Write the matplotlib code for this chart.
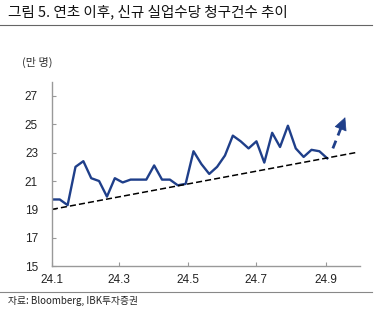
import numpy as np
import pandas as pd
import matplotlib
matplotlib.use("Agg")
import matplotlib.pyplot as plt
import matplotlib.dates as mdates

plt.rcParams['font.family'] = ['Noto Sans CJK KR', 'DejaVu Sans']

# weekly initial jobless claims, 10k persons
claims = [19.7, 19.7, 19.3, 22.0, 22.4, 21.2, 21.0, 19.9, 21.2, 20.9,
          21.1, 21.1, 21.1, 22.1, 21.1, 21.1, 20.7, 20.8, 23.1, 22.2,
          21.5, 22.0, 22.8, 24.2, 23.8, 23.3, 23.8, 22.3, 24.4, 23.4,
          24.9, 23.3, 22.7, 23.2, 23.1, 22.6]
weeks = pd.date_range("2024-01-01", periods=len(claims), freq="7D")

trend_dates = pd.to_datetime(["2024-01-01", "2024-09-27"])
trend_vals = [19.0, 23.0]

arrow_dates = pd.to_datetime(["2024-09-07", "2024-09-18"])
arrow_vals = [23.3, 25.5]

tick_dates = pd.to_datetime(["2024-01-01", "2024-03-01", "2024-05-01",
                             "2024-07-01", "2024-09-01"])
tick_labels = ["24.1", "24.3", "24.5", "24.7", "24.9"]
yticks = [15, 17, 19, 21, 23, 25, 27]

blue = "#1f3f8a"
gray = "#999999"
latin = ['Liberation Sans', 'DejaVu Sans']

fig = plt.figure(figsize=(3.76, 3.12), dpi=100)
ax = fig.add_axes([0.138, 0.147, 0.819, 0.591])

ax.plot(weeks, claims, color=blue, lw=1.7)
ax.plot(trend_dates, trend_vals, color="black", lw=1.1, ls=(0, (4, 2)))

# up arrow: dashed shaft + solid head
ax_x = mdates.date2num(arrow_dates)
frac = 0.75
mid_x = ax_x[0] + frac * (ax_x[1] - ax_x[0])
mid_y = arrow_vals[0] + frac * (arrow_vals[1] - arrow_vals[0])
ax.plot([ax_x[0], mid_x], [arrow_vals[0], mid_y], color=blue, lw=2.0,
        ls=(0, (3, 2)))
ax.annotate("", xy=(ax_x[1], arrow_vals[1]), xytext=(mid_x, mid_y),
            arrowprops=dict(arrowstyle="-|>,head_length=0.7,head_width=0.35",
                            color=blue, lw=0.5, mutation_scale=12,
                            shrinkA=0, shrinkB=0))

ax.set_xlim(pd.Timestamp("2024-01-01"), pd.Timestamp("2024-10-01"))
ax.set_ylim(15, 28)
ax.set_xticks(tick_dates)
ax.set_xticklabels(tick_labels, family=latin)
ax.set_yticks(yticks)
ax.set_yticklabels([str(v) for v in yticks], family=latin)
ax.tick_params(direction="in", length=3, color=gray, labelsize=8.5,
               labelcolor="#222222")
ax.tick_params(axis="x", pad=6)
ax.tick_params(axis="y", pad=10)

for s in ["top", "right"]:
    ax.spines[s].set_visible(False)
for s in ["left", "bottom"]:
    ax.spines[s].set_color(gray)
    ax.spines[s].set_linewidth(1.0)

fig.text(0.02, 0.962, "그림 5. 연초 이후, 신규 실업수당 청구건수 추이",
         fontsize=10.5, color="#111111", va="center", ha="left")
fig.add_artist(plt.Line2D([0.0, 0.99], [0.92, 0.92], color="#666666", lw=0.8))
fig.text(0.058, 0.8, "(만 명)", fontsize=8, color="#333333", va="center", ha="left")
fig.add_artist(plt.Line2D([0.0, 0.99], [0.065, 0.065], color="#888888", lw=0.8))
fig.text(0.02, 0.035, "자료: Bloomberg, IBK투자증권", fontsize=7,
         color="#222222", va="center", ha="left")

fig.savefig("out.png", dpi=100)
